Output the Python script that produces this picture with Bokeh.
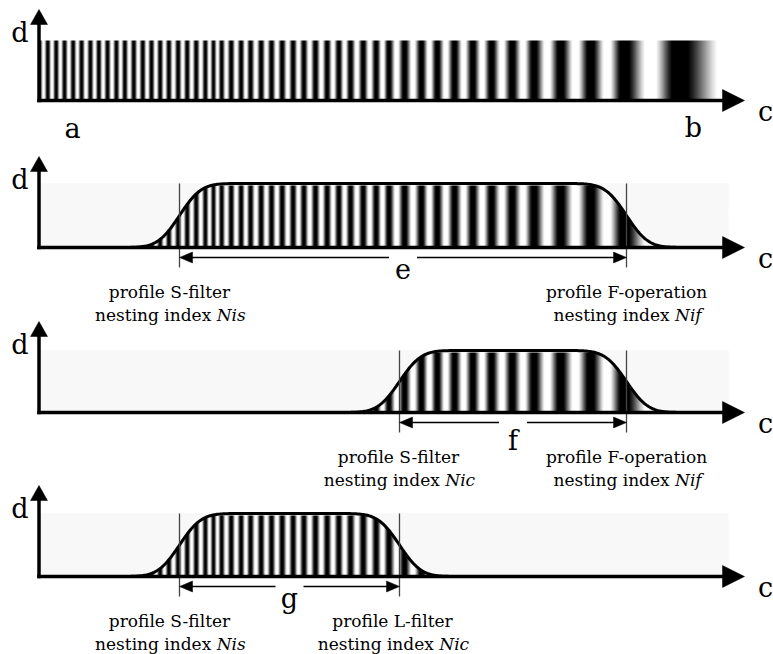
import math
import numpy as np
from bokeh.plotting import figure
from bokeh.models import Range1d
from bokeh.embed import file_html
from bokeh.resources import INLINE
from bokeh.core.properties import value

# ---------------- data ----------------
# c positions of the centres of the dark stripes of the chirped profile
stripe_c = [47.3, 55.7, 64.0, 72.7, 81.0, 90.0, 98.3, 107.0, 116.0, 124.3,
            133.3, 142.3, 151.0, 159.7, 168.3, 177.7, 186.7, 195.7, 205.0, 213.0,
            221.0, 230.7, 240.7, 250.0, 260.7, 271.0, 281.7, 292.7, 303.3, 315.0,
            326.7, 338.3, 350.0, 362.7, 375.7, 388.3, 404.0, 421.0, 436.7, 454.0,
            472.3, 491.0, 511.7, 533.3, 560.0, 590.0, 623.0, 677.0]
profile_start_c = 38.0
profile_end_c = 727.0          # the profile has faded to white here

span_letters = ["e", "f", "g"]
filter_lo_c = [179.0, 399.0, 179.0]
filter_hi_c = [626.0, 626.0, 399.0]
edge_sigma = 17.0

lo_line1 = ["profile S-filter", "profile S-filter", "profile S-filter"]
lo_index = ["Nis", "Nic", "Nis"]
hi_line1 = ["profile F-operation", "profile F-operation", "profile L-filter"]
hi_index = ["Nif", "Nif", "Nic"]
line2_prefix = "nesting index"
lo_label_c = [169.0, 398.0, 169.0]
hi_label_c = [626.0, 626.0, 392.0]

top_labels = ["a", "b"]
top_labels_c = [72.0, 693.0]
axis_labels = ["d", "c"]

# ---------------- layout ----------------
W, H = 773, 654
base_px = [100, 247, 412, 576]
band_px = [60, 64, 62, 63]
letter_base_off = [21, 28, 22]
FONT = "DejaVu Serif"
LABEL_FS = 17
LETTER_FS = 27
BG = "#f8f8f8"
INK = "#000000"


def Y(px):
    return H - px


def phi(z):
    return 0.5 * (1.0 + np.vectorize(math.erf)(np.asarray(z) / math.sqrt(2.0)))


def envelope(c, lo, hi):
    return phi((c - lo) / edge_sigma) - phi((c - hi) / edge_sigma)


# approximate DejaVu Serif advance widths (em)
EM = {"n": .644, "e": .592, "s": .513, "t": .402, "i": .320, "g": .640, " ": .318,
      "d": .640, "x": .565, "N": .771, "f": .352, "c": .560}


def tw(s, fs):
    return sum(EM.get(ch, .6) for ch in s) * fs


# ---------------- stripe image ----------------
ncol = int(round(profile_end_c - profile_start_c)) + 1
cc = profile_start_c + np.arange(ncol) + 0.5
sc = np.array(stripe_c)
ph_k = np.arange(len(sc)) * 2 * np.pi
p0 = sc[1] - sc[0]
xs = np.concatenate([[sc[0] - 3 * p0], sc, [profile_end_c]])
ph = np.concatenate([[-6 * np.pi], ph_k, [ph_k[-1] + np.pi]])
phase = np.interp(cc, xs, ph)
dark = 0.5 + 0.5 * np.cos(phase)
gray = np.clip(0.5 + 1.25 * ((1 - dark) - 0.5), 0, 1)
lev = (gray * 255).astype(np.uint8)
img = np.zeros((2, ncol), dtype=np.uint32)
v = img.view(dtype=np.uint8).reshape((2, ncol, 4))
v[:, :, 0] = lev
v[:, :, 1] = lev
v[:, :, 2] = lev
v[:, :, 3] = 255

p = figure(width=W, height=H, x_range=Range1d(0, W), y_range=Range1d(0, H),
           output_backend="svg", toolbar_location=None, min_border=0,
           x_axis_location=None, y_axis_location=None,
           outline_line_color=None, background_fill_color="white",
           border_fill_color="white")
p.grid.visible = False

for i, B in enumerate(base_px):
    top = B - band_px[i]
    x_end = profile_start_c + ncol
    if i > 0:
        p.quad(left=[profile_start_c], right=[x_end], bottom=[Y(B)], top=[Y(top)],
               fill_color=BG, line_color=None)
        p.image_rgba(image=[img], x=profile_start_c, y=Y(B), dw=ncol, dh=band_px[i] - 2)
    else:
        p.image_rgba(image=[img], x=profile_start_c, y=Y(B), dw=ncol, dh=band_px[i])

    if i > 0:
        j = i - 1
        lo, hi = filter_lo_c[j], filter_hi_c[j]
        ce = np.linspace(profile_start_c, x_end, 700)
        env = envelope(ce, lo, hi)
        ye = Y(B) + band_px[i] * env
        cover_x = [profile_start_c, x_end] + list(ce[::-1])
        cover_y = [Y(top), Y(top)] + list(ye[::-1])
        p.patch(cover_x, cover_y, fill_color=BG, line_color=None)
        p.line(ce, ye, line_width=3, line_color="black", line_join="round")

        # filter position lines
        p.segment(x0=[lo, hi], y0=[Y(top), Y(top)], x1=[lo, hi], y1=[Y(B + 20), Y(B + 20)],
                  line_width=1.3, line_color="#444444")
        # double arrow with the letter
        ya = Y(B + 10)
        mid = (lo + hi) / 2.0
        p.segment(x0=[lo + 10, mid + 14], y0=[ya, ya], x1=[mid - 14, hi - 10], y1=[ya, ya],
                  line_width=1.3, line_color=INK)
        p.patches(xs=[[lo, lo + 13, lo + 13], [hi, hi - 13, hi - 13]],
                  ys=[[ya, ya + 5.5, ya - 5.5], [ya, ya + 5.5, ya - 5.5]],
                  fill_color=INK, line_color=INK, line_width=0.5)
        p.text(x=[mid], y=[Y(B + letter_base_off[j])], text=[span_letters[j]],
               text_font=value(FONT), text_font_size=value(f"{LETTER_FS}px"),
               text_align="center", text_baseline="alphabetic", text_color=INK)

        # labels under the filter lines
        for cx, l1, idx in ((lo_label_c[j], lo_line1[j], lo_index[j]),
                            (hi_label_c[j], hi_line1[j], hi_index[j])):
            p.text(x=[cx], y=[Y(B + 44)], text=[l1], text_font=value(FONT),
                   text_font_size=value(f"{LABEL_FS}px"), text_align="center",
                   text_baseline="alphabetic", text_color=INK)
            w_main = tw(line2_prefix, LABEL_FS)
            w_sp = tw(" ", LABEL_FS)
            w_it = tw(idx, LABEL_FS)
            left = cx - (w_main + w_sp + w_it) / 2.0
            p.text(x=[left + w_main], y=[Y(B + 67)], text=[line2_prefix],
                   text_font=value(FONT), text_font_size=value(f"{LABEL_FS}px"),
                   text_align="right", text_baseline="alphabetic", text_color=INK)
            p.text(x=[left + w_main + w_sp], y=[Y(B + 67)], text=[idx],
                   text_font=value(FONT), text_font_size=value(f"{LABEL_FS}px"),
                   text_font_style="italic", text_align="left",
                   text_baseline="alphabetic", text_color=INK)

    # axes with arrow heads
    p.segment(x0=[38.5], y0=[Y(B + 1.75)], x1=[38.5], y1=[Y(B - 80)],
              line_width=3.5, line_color="black")
    p.segment(x0=[36.75], y0=[Y(B)], x1=[725], y1=[Y(B)],
              line_width=3.5, line_color="black")
    p.patch([38.5, 30, 47], [Y(B - 91), Y(B - 76), Y(B - 76)],
            fill_color="black", line_color="black", line_width=0.5)
    p.patch([744, 722, 722], [Y(B), Y(B - 11), Y(B + 11)],
            fill_color="black", line_color="black", line_width=0.5)
    p.text(x=[19.5, 765], y=[Y(B - 68), Y(B + 11)], text=axis_labels,
           text_font=value(FONT), text_font_size=value(f"{LETTER_FS}px"),
           text_align="center", text_baseline="alphabetic", text_color=INK)

# a and b under the first profile
p.text(x=top_labels_c, y=[Y(128), Y(127)], text=top_labels,
       text_font=value(FONT), text_font_size=value(f"{LETTER_FS}px"),
       text_align="center", text_baseline="alphabetic", text_color=INK)

open("out.html", "w").write(file_html(p, INLINE))
